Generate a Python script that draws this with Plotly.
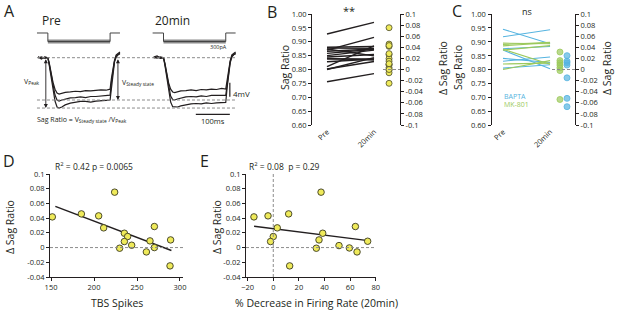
import plotly.graph_objects as go

W, H = 617, 312
FONT = "Open Sans"
INK = "#231F20"
GRAY = "#8C8C8C"
YELLOW = "#EFEA5A"
BLUE = "#56B4E0"
GREEN = "#9CC95C"

# ---------------- Panel A data (ms, mV relative to rest, pA) ----------------
trace_t_ms = [0, 10, 20, 29, 33, 38, 44, 50, 56, 62, 70, 80, 95, 110, 125, 140,
              155, 170, 185, 200, 212, 216, 220, 225, 230, 236, 241]
pre_sweeps_mv = [
    [0.2, -0.1, 0.1, 0, -1.5, -4.1, -7.0, -9.0, -10.1, -10.4, -10.2, -9.9, -9.8, -9.6,
     -9.7, -9.4, -9.5, -9.3, -9.2, -9.3, -9.0, -5.8, -2.9, -0.7, 0.8, 1.3, 1.6],
    [-0.1, 0.2, -0.2, 0, -1.8, -4.7, -8.1, -10.7, -12.1, -12.4, -12.1, -11.8, -11.5,
     -11.4, -11.2, -11.4, -11.1, -11.1, -11.0, -10.8, -10.7, -6.9, -3.5, -0.9, 0.5, 1.1, 1.3],
    [0.3, -0.4, 0.2, 0, -2.1, -5.2, -9.2, -12.4, -14.1, -14.4, -14.1, -13.5, -13.0,
     -12.7, -12.5, -12.5, -12.7, -12.4, -12.4, -12.2, -12.1, -8.1, -4.4, -1.2, 0.2, 0.9, 1.1],
]
post_sweeps_mv = [
    [0.2, 0.5, -0.1, 0, -1.5, -4.4, -7.2, -9.0, -9.8, -10.0, -9.8, -9.5, -9.4, -9.2,
     -9.4, -9.1, -9.2, -9.0, -9.1, -8.8, -9.0, -6.4, -3.5, -0.9, 0.8, 1.3, 1.6],
    [0.1, -0.1, 0.2, 0, -1.8, -4.9, -8.4, -11.0, -12.0, -12.1, -11.8, -11.5, -11.2,
     -11.1, -11.2, -10.9, -11.1, -10.8, -10.9, -10.8, -10.8, -7.5, -4.1, -1.2, 0.5, 1.1, 1.3],
    [-0.1, 0.2, -0.2, 0, -2.1, -5.5, -9.5, -12.7, -14.0, -14.1, -14.1, -13.8, -13.4,
     -13.2, -13.1, -13.2, -12.9, -13.1, -12.9, -12.8, -12.8, -8.6, -4.9, -1.5, 0.2, 0.9, 1.1],
]
post_offset_ms = 340
stim_t_ms = [-3, 29, 29, 212, 212, 241]
stim_pa = [0, 0, -300, -300, 0, 0]
step_t_ms = [29, 212]
step_pa = [-300, -300]
ref_levels_mv = [0, -12.1, -14.4]      # rest, steady state, peak
ref_span_ms = [-3, 585]
v_peak_mv = -14.4
v_steady_mv = -12.1
scale_bar_ms = 100
scale_bar_mv = 4

# ---------------- Panel B data ----------------
cond_labels = ["Pre", "20min"]
b_pre = [0.928, 0.870, 0.756, 0.810, 0.800, 0.802, 0.880, 0.877, 0.874, 0.866,
         0.858, 0.850, 0.845, 0.838, 0.828, 0.840]
b_post = [0.970, 0.916, 0.785, 0.885, 0.843, 0.829, 0.883, 0.876, 0.849, 0.874,
          0.873, 0.870, 0.854, 0.838, 0.838, 0.834]
delta_sag = [0.0417, 0.0458, 0.0431, 0.0753, 0.0268, 0.0195, 0.0150, 0.0082,
             -0.0009, 0.0032, -0.0059, 0.0286, 0.0091, 0.0, 0.0104, -0.0249]

# ---------------- Panel C data ----------------
bapta_pre = [0.945, 0.918, 0.870, 0.830, 0.805, 0.875, 0.840]
bapta_post = [0.893, 0.943, 0.803, 0.845, 0.817, 0.883, 0.825]
bapta_delta = [0.025, 0.015, 0.012, 0.008, -0.015, -0.052, -0.067]
mk_pre = [0.800, 0.870, 0.885, 0.890, 0.820, 0.895, 0.873]
mk_post = [0.832, 0.886, 0.897, 0.898, 0.823, 0.893, 0.819]
mk_delta = [0.0315, 0.016, 0.012, 0.008, 0.003, -0.002, -0.054]

# ---------------- Panel D / E data ----------------
tbs_spikes = [151.5, 185.3, 205.4, 224.0, 211.2, 235.3, 239.1, 235.3, 229.8, 243.8,
              260.9, 270.2, 265.1, 270.2, 289.1, 288.4]
d_fit_x = [155, 290]
d_fit_y = [0.056, -0.004]
pct_decrease = [-15.1, -4.1, 3.1, 37.3, 38.6, 0.0, 35.7, -2.1, 33.6, 51.3, 65.4,
                64.1, 12.0, 59.4, 73.7, 12.8]
delta_sag_e = [0.0417, 0.0431, 0.0268, 0.0753, 0.0195, 0.0150, 0.0104, 0.0082,
               -0.0009, 0.0027, -0.0059, 0.0286, 0.0458, -0.0005, 0.0086, -0.0249]
e_fit_x = [-15, 74]
e_fit_y = [0.029, 0.0095]

ratio_ticks = [0.60, 0.65, 0.70, 0.75, 0.80, 0.85, 0.90, 0.95, 1.00]
ratio_ticktext = ["0.60", "0.65", "0.70", "0.75", "0.80", "0.85", "0.90", "0.95", "1.00"]
delta_ticks = [-0.1, -0.08, -0.06, -0.04, -0.02, 0, 0.02, 0.04, 0.06, 0.08, 0.1]
delta_ticktext = ["-0.1", "-0.08", "-0.06", "-0.04", "-0.02", "0", "0.02", "0.04",
                  "0.06", "0.08", "0.1"]
corr_ticks = [-0.04, -0.02, 0, 0.02, 0.04, 0.06, 0.08, 0.1]
corr_ticktext = ["-0.04", "-0.02", "0", "0.02", "0.04", "0.06", "0.08", "0.1"]
tbs_ticks = [150, 200, 250, 300]
pct_ticks = [-20, 0, 20, 40, 60, 80]


def px(x):
    return x / W


def py(y):
    return 1 - y / H


fig = go.Figure()

# ---------- Panel A ----------
for sweep in pre_sweeps_mv:
    fig.add_trace(go.Scatter(x=trace_t_ms, y=sweep, mode="lines",
                             line=dict(color=INK, width=1.2), xaxis="x", yaxis="y"))
for sweep in post_sweeps_mv:
    fig.add_trace(go.Scatter(x=[t + post_offset_ms for t in trace_t_ms], y=sweep,
                             mode="lines", line=dict(color=INK, width=1.2),
                             xaxis="x", yaxis="y"))
for off in (0, post_offset_ms):
    fig.add_trace(go.Scatter(x=[t + off for t in step_t_ms], y=step_pa, mode="lines",
                             line=dict(color="#8A8A8A", width=4), xaxis="x", yaxis="y2"))
    fig.add_trace(go.Scatter(x=[t + off for t in stim_t_ms], y=stim_pa, mode="lines",
                             line=dict(color="#444444", width=1), xaxis="x", yaxis="y2"))
for lvl in ref_levels_mv:
    fig.add_trace(go.Scatter(x=ref_span_ms, y=[lvl, lvl], mode="lines",
                             line=dict(color=GRAY, width=1, dash="3px,2px"),
                             xaxis="x", yaxis="y"))
# scale bars
sb_t = 564
sb_v = -16.2
fig.add_trace(go.Scatter(x=[sb_t - scale_bar_ms, sb_t], y=[sb_v, sb_v], mode="lines",
                         line=dict(color=INK, width=1.2), xaxis="x", yaxis="y"))
fig.add_trace(go.Scatter(x=[sb_t, sb_t], y=[-7.2, -7.2 - scale_bar_mv], mode="lines",
                         line=dict(color=INK, width=1.2), xaxis="x", yaxis="y"))

# ---------- Panel B ----------
X_PRE, X_POST, X_DELTA = 0, 1, 1.32
for a, b in zip(b_pre, b_post):
    fig.add_trace(go.Scatter(x=[X_PRE, X_POST], y=[a, b], mode="lines",
                             line=dict(color=INK, width=1.4), xaxis="x3", yaxis="y3"))
fig.add_trace(go.Scatter(x=[X_DELTA] * len(delta_sag), y=delta_sag, mode="markers",
                         marker=dict(size=6, color=YELLOW, line=dict(color="#4A4A2A", width=0.8)),
                         xaxis="x3", yaxis="y4"))

# ---------- Panel C ----------
for a, b in zip(bapta_pre, bapta_post):
    fig.add_trace(go.Scatter(x=[X_PRE, X_POST], y=[a, b], mode="lines",
                             line=dict(color=BLUE, width=1.1), xaxis="x5", yaxis="y5"))
for a, b in zip(mk_pre, mk_post):
    fig.add_trace(go.Scatter(x=[X_PRE, X_POST], y=[a, b], mode="lines",
                             line=dict(color=GREEN, width=1.1), xaxis="x5", yaxis="y5"))
fig.add_trace(go.Scatter(x=[1.21] * len(mk_delta), y=mk_delta, mode="markers",
                         marker=dict(size=6, color="rgba(156,201,92,0.7)",
                                     line=dict(color=GREEN, width=0.8)),
                         xaxis="x5", yaxis="y6"))
fig.add_trace(go.Scatter(x=[1.36] * len(bapta_delta), y=bapta_delta, mode="markers",
                         marker=dict(size=6, color="rgba(86,180,224,0.7)",
                                     line=dict(color=BLUE, width=0.8)),
                         xaxis="x5", yaxis="y6"))

# ---------- Panel D ----------
fig.add_trace(go.Scatter(x=d_fit_x, y=d_fit_y, mode="lines", line=dict(color=INK, width=1.4),
                         xaxis="x7", yaxis="y7"))
fig.add_trace(go.Scatter(x=tbs_spikes, y=delta_sag, mode="markers",
                         marker=dict(size=6.5, color=YELLOW, line=dict(color="#3A3A20", width=0.9)),
                         xaxis="x7", yaxis="y7"))

# ---------- Panel E ----------
fig.add_trace(go.Scatter(x=e_fit_x, y=e_fit_y, mode="lines", line=dict(color=INK, width=1.4),
                         xaxis="x8", yaxis="y8"))
fig.add_trace(go.Scatter(x=pct_decrease, y=delta_sag_e, mode="markers",
                         marker=dict(size=6.5, color=YELLOW, line=dict(color="#3A3A20", width=0.9)),
                         xaxis="x8", yaxis="y8"))

tick_font = dict(family=FONT, size=7.5, color=INK)
axis_common = dict(showgrid=False, zeroline=False, showline=True, linecolor=INK, linewidth=1,
                   ticks="outside", ticklen=3, tickwidth=1, tickcolor=INK, tickfont=tick_font,
                   ticklabeloverflow="allow")
hidden = dict(visible=False, showgrid=False, zeroline=False)

dash_line = dict(color=GRAY, width=1, dash="3px,2px")
shapes = [
    dict(type="line", xref="x3 domain", yref="y4", x0=0.807, x1=1, y0=0, y1=0, line=dash_line),
    dict(type="line", xref="x5 domain", yref="y6", x0=0.723, x1=1, y0=0, y1=0, line=dash_line),
    dict(type="line", xref="x7 domain", yref="y7", x0=0, x1=1, y0=0, y1=0, line=dash_line),
    dict(type="line", xref="x8 domain", yref="y8", x0=0, x1=1, y0=0, y1=0, line=dash_line),
    dict(type="line", xref="x8", yref="y8 domain", x0=0, x1=0, y0=0, y1=1, line=dash_line),
]


def txt(x, y, s, size=8, angle=0, xanchor="center", color=INK):
    return dict(x=px(x), y=py(y), xref="paper", yref="paper", text=s, showarrow=False,
                textangle=angle, xanchor=xanchor, yanchor="middle",
                font=dict(family=FONT, size=size, color=color))


annotations = [
    txt(9, 11, "A", 16), txt(272, 12, "B", 16), txt(457, 11, "C", 16),
    txt(9, 161, "D", 16), txt(204, 161, "E", 16),
    txt(40, 21, "Pre", 12, xanchor="left"), txt(153, 21, "20min", 12, xanchor="left"),
    txt(218, 47, "300pA", 5.5),
    txt(349, 10, "**", 11), txt(527, 12, "ns", 9),
    txt(285, 68, "Sag Ratio", 10.5, -90), txt(443, 68, "Δ Sag Ratio", 10.5, -90),
    txt(458, 68, "Sag Ratio", 10.5, -90), txt(607, 68, "Δ Sag Ratio", 10.5, -90),
    txt(502, 96, "BAPTA", 7, xanchor="left", color=BLUE),
    txt(502, 104.5, "MK-801", 7, xanchor="left", color=GREEN),
    txt(10, 227, "Δ Sag Ratio", 10.5, -90), txt(217, 227, "Δ Sag Ratio", 10.5, -90),
    txt(117, 303, "TBS Spikes", 10.5), txt(316, 303, "% Decrease in Firing Rate (20min)", 10.5),
    txt(53, 166, "R<sup>2</sup> = 0.42 p = 0.0065", 8.5, xanchor="left"),
    txt(247, 166, "R<sup>2</sup> = 0.08  p = 0.29", 8.5, xanchor="left"),
]
# Panel C left-axis tick labels, placed at the tick values of the C ratio axis
for val, lab in zip(ratio_ticks, ratio_ticktext):
    annotations.append(dict(x=px(488), y=val, xref="paper", yref="y5", text=lab,
                            showarrow=False, xanchor="right", yanchor="middle",
                            font=tick_font))
# Panel A text in data coordinates
a_font = dict(family=FONT, size=7, color=INK)
annotations += [
    dict(x=23, y=v_peak_mv, ax=23, ay=0, xref="x", yref="y", axref="x", ayref="y", text="",
         showarrow=True, arrowhead=2, arrowsize=0.9, arrowwidth=0.9, arrowside="end+start",
         arrowcolor=INK, startarrowhead=2, startarrowsize=0.9),
    dict(x=235, y=v_steady_mv, ax=235, ay=0, xref="x", yref="y", axref="x", ayref="y", text="",
         showarrow=True, arrowhead=2, arrowsize=0.9, arrowwidth=0.9, arrowside="end+start",
         arrowcolor=INK, startarrowhead=2, startarrowsize=0.9),
    dict(x=12, y=-6.7, xref="x", yref="y", text="V<sub>Peak</sub>", showarrow=False,
         xanchor="right", font=a_font),
    dict(x=241, y=-7.2, xref="x", yref="y", text="V<sub>Steady state</sub>", showarrow=False,
         xanchor="left", font=a_font),
    dict(x=-9, y=-17.6, xref="x", yref="y",
         text="Sag Ratio = V<sub>Steady state</sub> /V<sub>Peak</sub>", showarrow=False,
         xanchor="left", font=a_font),
    dict(x=sb_t + 3, y=-10.1, xref="x", yref="y", text="4mV", showarrow=False,
         xanchor="left", font=dict(family=FONT, size=8, color=INK)),
    dict(x=sb_t - scale_bar_ms / 2, y=-18.0, xref="x", yref="y", text="100ms", showarrow=False,
         font=dict(family=FONT, size=7.5, color=INK)),
]

ratio_y_dom = [py(125), py(14)]
fig.update_layout(
    width=W, height=H, margin=dict(l=0, r=0, t=0, b=0), autosize=False,
    template="none", paper_bgcolor="white", plot_bgcolor="rgba(0,0,0,0)", showlegend=False,
    font=dict(family=FONT, color=INK),
    # A
    xaxis=dict(domain=[px(30), px(245)], range=[-23.5, 608.6], anchor="y", **hidden),
    yaxis=dict(domain=[py(125), py(50)], range=[-19.25, 2.2], anchor="x", **hidden),
    yaxis2=dict(domain=[py(48), py(28)], range=[-529, 176], anchor="x", **hidden),
    # B
    xaxis3=dict(domain=[px(312), px(400)], range=[-0.319, 1.553], anchor="y3",
                showgrid=False, zeroline=False, showline=False, ticks="",
                tickvals=[X_PRE, X_POST], ticktext=cond_labels, tickangle=-45, tickfont=tick_font),
    yaxis3=dict(domain=ratio_y_dom, range=[0.6, 1.0], anchor="x3", side="left",
                tickvals=ratio_ticks, ticktext=ratio_ticktext, **axis_common),
    yaxis4=dict(domain=ratio_y_dom, side="right", anchor="x3", range=[-0.1, 0.1],
                tickvals=delta_ticks, ticktext=delta_ticktext, **axis_common),
    # C
    xaxis5=dict(domain=[px(492), px(575)], range=[-0.234, 1.53], anchor="y5",
                showgrid=False, zeroline=False, showline=False, ticks="",
                tickvals=[X_PRE, X_POST], ticktext=cond_labels, tickangle=-45, tickfont=tick_font),
    yaxis5=dict(domain=ratio_y_dom, range=[0.6, 1.0], anchor="x5", side="left",
                tickvals=ratio_ticks, showticklabels=False,
                **{k: v for k, v in axis_common.items() if k != "tickfont"}),
    yaxis6=dict(domain=ratio_y_dom, side="right", anchor="x5", range=[-0.1, 0.1],
                tickvals=delta_ticks, ticktext=delta_ticktext, **axis_common),
    # D
    xaxis7=dict(domain=[px(50), px(183)], range=[148.8, 303.5], anchor="y7",
                tickvals=tbs_ticks, **axis_common),
    yaxis7=dict(domain=[py(277), py(174)], range=[-0.04, 0.1], anchor="x7",
                tickvals=corr_ticks, ticktext=corr_ticktext, **axis_common),
    # E
    xaxis8=dict(domain=[px(246), px(376)], range=[-21.3, 80.2], anchor="y8",
                tickvals=pct_ticks, **axis_common),
    yaxis8=dict(domain=[py(277), py(174)], range=[-0.04, 0.1], anchor="x8",
                tickvals=corr_ticks, ticktext=corr_ticktext, **axis_common),
    shapes=shapes,
    annotations=annotations,
)

fig.write_html("out.html", config={"displayModeBar": False, "staticPlot": True},
               post_script="document.body.style.margin='0px';document.body.style.overflow='hidden';")
